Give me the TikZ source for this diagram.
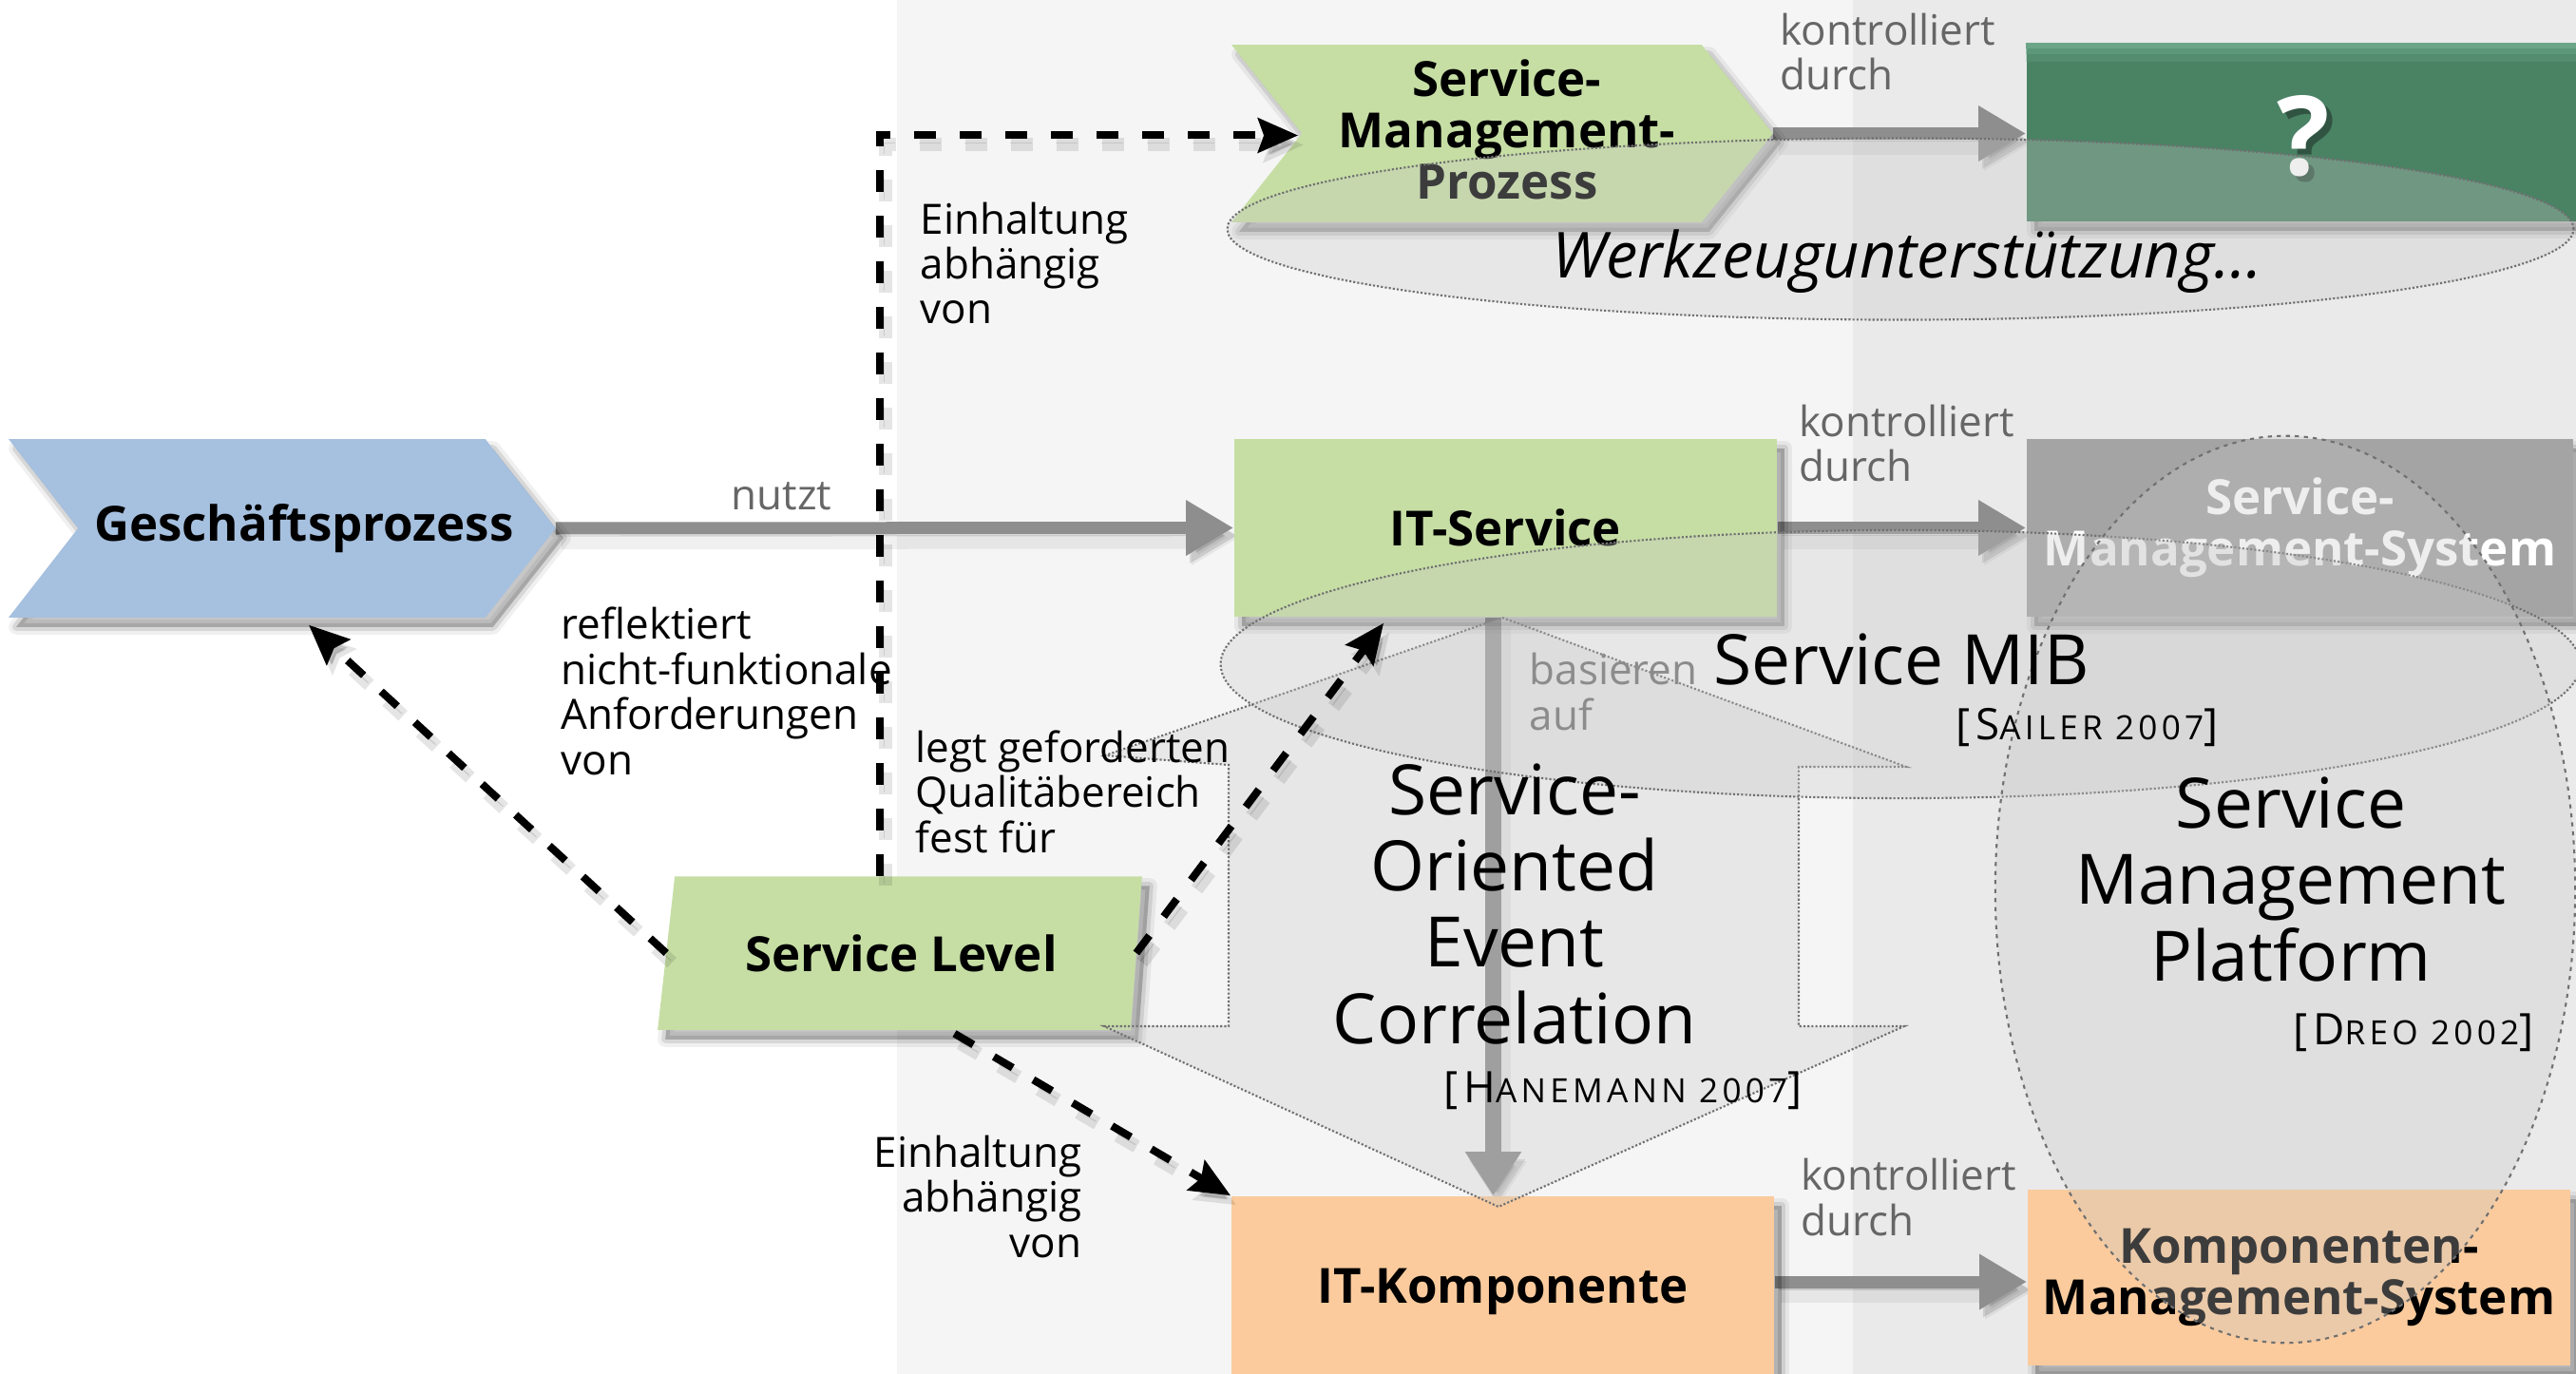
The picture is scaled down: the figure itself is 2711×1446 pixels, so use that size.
\documentclass[tikz,border=0pt]{standalone}
\usepackage{fontspec}
\setmainfont{Open Sans}
\newfontfamily\bibfont[LetterSpace=12]{Open Sans}
\usetikzlibrary{arrows.meta,calc}

\definecolor{bgA}{HTML}{F5F5F5}
\definecolor{bgB}{HTML}{EAEAEA}
\definecolor{procblue}{HTML}{A6C0DF}
\definecolor{svcgreen}{HTML}{C6DEA4}
\definecolor{compor}{HTML}{FBCB9D}
\definecolor{toolgreen}{HTML}{4A8264}
\definecolor{toollight}{HTML}{6BA588}
\definecolor{sysgrey}{HTML}{A4A4A4}
\definecolor{relgrey}{HTML}{8E8E8E}
\definecolor{lblgrey}{HTML}{666666}
\definecolor{basegrey}{HTML}{8C8C8C}
\definecolor{areagrey}{HTML}{C8C8C8}
\definecolor{dotgrey}{HTML}{707070}

\newcommand\lblfont{\fontsize{12.5}{13.5}\selectfont}
\newcommand\cardfont{\bfseries\fontsize{14.5}{15.4}\selectfont}
\newcommand\areafont{\fontsize{20.8}{22.8}\selectfont}
\newcommand\bibtag[2]{{\bibfont\fontsize{13}{13}\selectfont[#1{\fontsize{10}{10}\selectfont #2}]}}

\pgfdeclarelayer{backdrop}
\pgfdeclarelayer{links}
\pgfdeclarelayer{areas}
\pgfdeclarelayer{front}
\pgfsetlayers{backdrop,links,main,areas,front}

\begin{document}
\begin{tikzpicture}[x=0.01cm, y=-0.01cm,
  % soft drop shadow built from stacked translucent copies
  dropshade/.style={
    preaction={fill=black, opacity=0.22, transform canvas={shift={(8,10)}}},
    preaction={draw=black, opacity=0.10, line width=0.08cm, line join=round,
      transform canvas={shift={(8,10)}}},
    preaction={draw=black, opacity=0.06, line width=0.16cm, line join=round,
      transform canvas={shift={(8,10)}}}},
  frame/.style={rectangle, inner sep=0},
  card/.style={rectangle, inner sep=0, font=\cardfont, align=center, dropshade},
  cardtext/.style={inner sep=0, font=\cardfont, align=center},
  relarrow/.style={draw=relgrey, line width=0.13cm,
    -{Triangle[length=0.5cm, width=0.55cm]},
    preaction={draw=black, opacity=0.12, transform canvas={shift={(4,8)}}},
    preaction={draw=black, opacity=0.06, line width=0.24cm, transform canvas={shift={(6,10)}}}},
  deparrow/.style={draw=black, line width=0.08cm, dash pattern=on 0.23cm off 0.25cm,
    -{Stealth[length=0.42cm, width=0.36cm, inset=0.06cm]},
    preaction={draw=black, opacity=0.10, line width=0.14cm, dash pattern=on 0.23cm off 0.25cm,
      transform canvas={shift={(6,10)}}},
    preaction={draw=black, opacity=0.10, dash pattern=on 0.23cm off 0.25cm,
      transform canvas={shift={(5,8)}}}},
  area/.style={fill=areagrey, fill opacity=0.3, draw=dotgrey, line width=0.6pt,
    dash pattern=on 0.6pt off 0.6pt},
  areadash/.style={area, dash pattern=on 1.2pt off 1.5pt},
  lbl/.style={inner sep=0, font=\lblfont, align=left},
  bigtxt/.style={inner sep=0, font=\areafont, align=center},
  bibtxt/.style={inner sep=0}
]
\useasboundingbox (0,0) rectangle (2711,1446);
\clip (0,0) rectangle (2711,1446);

% backdrop bands
\begin{pgfonlayer}{backdrop}
  \fill[white] (0,0) rectangle (944,1446);
  \fill[bgA] (944,0) rectangle (1950,1446);
  \fill[bgB] (1950,0) rectangle (2711,1446);
\end{pgfonlayer}

% ---- process chevrons ----
\node[frame, minimum width=5.74cm, minimum height=1.86cm] (gp) at (297,556) {};
\fill[procblue, dropshade] (gp.north west) -- ($(gp.north east)+(-74,0)$) -- (gp.east)
  -- ($(gp.south east)+(-74,0)$) -- (gp.south west) -- ($(gp.west)+(73,0)$) -- cycle;
\node[cardtext] (gptext) at ($(gp.center)+(23,0)$) {Geschäftsprozess};

\node[frame, minimum width=5.68cm, minimum height=1.85cm] (smp) at (1581,140.5) {};
\fill[svcgreen, dropshade] (smp.north west) -- ($(smp.north east)+(-75,0)$) -- (smp.east)
  -- ($(smp.south east)+(-75,0)$) -- (smp.south west) -- ($(smp.west)+(74,0)$) -- cycle;
\node[cardtext] (smptext) at ($(smp.center)+(5,-4)$) {Service-\\Management-\\Prozess};

% ---- service level (slanted card) ----
\node[frame, minimum width=4.93cm, minimum height=1.60cm] (sl) at (948.5,1003) {};
\fill[svcgreen, dropshade] ($(sl.north west)+(9,0)$) -- ($(sl.north east)+(6,0)$)
  -- ($(sl.south east)+(-6,0)$) -- ($(sl.south west)+(-9,0)$) -- cycle;
\node[cardtext] (sltext) at (sl.center) {Service Level};

% ---- boxes ----
\node[card, fill=svcgreen, minimum width=5.71cm, minimum height=1.87cm] (its) at (1584.5,555.5) {IT-Service};
\node[card, fill=sysgrey, text=white, minimum width=5.75cm, minimum height=1.87cm] (sms) at (2420.5,555.5) {Service-\\Management-System};
\node[card, fill=compor, minimum width=5.71cm, minimum height=2.01cm] (itk) at (1581.5,1359.5) {IT-Komponente};
\node[card, fill=compor, minimum width=5.71cm, minimum height=1.85cm] (kms) at (2419.5,1344.5) {Komponenten-\\Management-System};

\node[card, fill=toolgreen, minimum width=5.9cm, minimum height=1.87cm] (tool) at (2428,139.5) {};
% light glow along the top edge of the tool box
\fill[toollight] (tool.north west) rectangle ($(tool.north east)+(0,6)$);
\fill[toollight, opacity=0.6] ($(tool.north west)+(0,6)$) rectangle ($(tool.north east)+(0,12)$);
\fill[toollight, opacity=0.3] ($(tool.north west)+(0,12)$) rectangle ($(tool.north east)+(0,20)$);
\node[inner sep=0, font=\bfseries\fontsize{33}{33}\selectfont, text=black, opacity=0.35] (qshade) at ($(tool.center)+(2,10)$) {?};
\node[inner sep=0, font=\bfseries\fontsize{33}{33}\selectfont, text=white] (qmark) at ($(tool.center)+(-4,4)$) {?};

% ---- grey relations ----
\begin{pgfonlayer}{links}
  \draw[relarrow] (gp.east) -- (its.west);
  \draw[relarrow] (smp.east) -- (smp.east -| tool.west);
  \draw[relarrow] (its.east) -- (sms.west);
  \coordinate (kmsin) at ($(kms.west)+(0,4.5)$);
  \draw[relarrow] (itk.east |- kmsin) -- (kmsin);
  \coordinate (vtop) at ($(its.south)+(-13,0)$);
  \draw[relarrow, line width=0.17cm, -{Triangle[length=0.46cm, width=0.56cm]}] (vtop) -- (vtop |- itk.north);
\end{pgfonlayer}

% ---- translucent areas ----
\begin{pgfonlayer}{areas}
  \path[area] (1581,650) -- (2006,807) -- (1893,807) -- (1893,1080) -- (2004,1080)
    -- (1577,1270) -- (1162,1080) -- (1293,1080) -- (1293,805) -- (1163,795) -- cycle;
  \path[area] (2000,699) ellipse [x radius=7.15cm, y radius=1.41cm];
  \path[area] (2000,241) ellipse [x radius=7.08cm, y radius=0.955cm];
  \path[areadash] (2405,936) ellipse [x radius=3.05cm, y radius=4.77cm];
\end{pgfonlayer}

\begin{pgfonlayer}{front}
  % dependencies of the service level
  \draw[deparrow] (sl.west) -- ($(gp.south)+(28,8)$);
  \draw[deparrow] (sl.east) -- ($(its.south west)+(158,6)$);
  \draw[deparrow] ($(sl.south)+(56,4)$) -- (itk.north west);
  \draw[deparrow] ($(sl.north)+(-23,0)$) |- ($(smp.west)+(70,2)$);

  % relation labels (anchored at the baseline of their last line)
  \node[lbl, text=lblgrey, anchor=base west] (lnutzt) at (769,537) {nutzt};
  \node[lbl, text=lblgrey, anchor=base west] (lctl1) at (1873,95) {kontrolliert\\durch};
  \node[lbl, text=lblgrey, anchor=base west] (lctl2) at (1893,507) {kontrolliert\\durch};
  \node[lbl, text=lblgrey, anchor=base west] (lctl3) at (1895,1300) {kontrolliert\\durch};
  \node[lbl, text=basegrey, anchor=base west] (lbase) at (1609,768) {basieren\\auf};
  \node[lbl, anchor=base west] (lkeep1) at (968,341) {Einhaltung\\abhängig\\von};
  \node[lbl, anchor=base west] (lrefl) at (590,815) {reflektiert\\nicht-funktionale\\Anforderungen\\von};
  \node[lbl, anchor=base west] (lset) at (963,897) {legt geforderten\\Qualitäbereich\\fest für};
  \node[lbl, anchor=base east, align=right] (lkeep2) at (1139,1323) {Einhaltung\\abhängig\\von};

  % area titles and references
  \node[bigtxt, anchor=base] (soec) at (1594,1098) {Service-\\Oriented\\Event\\Correlation};
  \node[bibtxt, anchor=base east] (refh) at (1897,1160) {\bibtag{H}{ANEMANN 2007}};
  \node[bigtxt, anchor=base] (mib) at (2001,720) {Service MIB};
  \node[bibtxt, anchor=base west] (refs) at (2058,778) {\bibtag{S}{AILER 2007}};
  \node[bigtxt, anchor=base] (smpf) at (2411,1032) {Service\\Management\\Platform};
  \node[bibtxt, anchor=base east] (refd) at (2667,1099) {\bibtag{D}{REO 2002}};
  \node[inner sep=0, anchor=base, font=\itshape\fontsize{19}{19}\selectfont] (tools) at (2007,293) {Werkzeugunterstützung…};
\end{pgfonlayer}
\end{tikzpicture}
\end{document}
